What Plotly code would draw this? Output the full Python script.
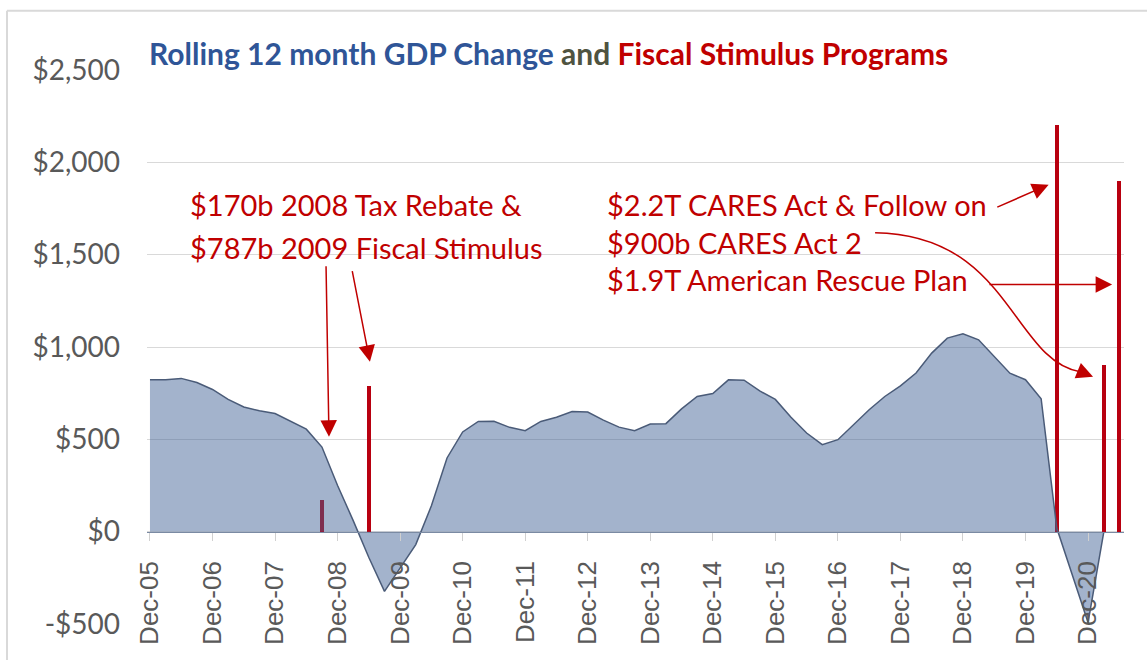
import pandas as pd
import plotly.graph_objects as go

# ---------------- data ----------------
quarters = list(pd.period_range("2005Q4", "2021Q2", freq="Q")
                .to_timestamp(how="end").strftime("%b-%y"))

gdp_change = [822, 822, 830, 808, 770, 716, 675, 655, 640, 597,
              555, 458, 250, 60, -140, -323, -200, -70, 140, 399,
              540, 597, 598, 565, 547, 597, 620, 651, 648, 604,
              566, 547, 583, 585, 665, 732, 748, 822, 820, 762,
              716, 620, 534, 471, 498, 579, 660, 732, 790, 859,
              967, 1048, 1071, 1039, 949, 858, 823, 720, 20, -240,
              -492, -5]

stim_quarters = ["Sep-08", "Jun-09", "Jun-20", "Mar-21", "Jun-21"]
stim_values = [170, 787, 2200, 900, 1900]

y_tick_vals = [-500, 0, 500, 1000, 1500, 2000, 2500]
y_tick_text = ["-$500", "$0", "$500", "$1,000", "$1,500", "$2,000", "$2,500"]

x_idx = list(range(len(quarters)))
gdp_x = x_idx[:len(gdp_change)]
stim_x = [quarters.index(q) for q in stim_quarters]
dec_vals = [i for i, q in enumerate(quarters) if q.startswith("Dec")]
dec_text = [quarters[i] for i in dec_vals]

RED = "#c00000"
GRAY = "#595959"

fig = go.Figure()
fig.add_trace(go.Scatter(
    x=gdp_x, y=gdp_change, mode="lines", fill="tozeroy",
    line=dict(color="#4a5b78", width=1.5),
    fillcolor="rgba(62,96,148,0.48)", hoverinfo="skip", showlegend=False))
fig.add_trace(go.Bar(
    x=stim_x, y=stim_values, width=0.25, marker=dict(color="#b80010", line=dict(width=0)),
    showlegend=False))

fig.update_layout(
    width=1147, height=660,
    margin=dict(l=147, r=23, t=70, b=36),
    paper_bgcolor="white", plot_bgcolor="white",
    font=dict(family="Lato", color=GRAY),
    bargap=0,
    xaxis=dict(range=[-0.19, 62.3], showgrid=False, zeroline=False,
               anchor="free", position=500 / 3000,
               tickmode="array", tickvals=dec_vals, ticktext=dec_text,
               tickangle=-90, ticks="outside", ticklen=8, tickcolor="#d0d0d0",
               showline=True, linecolor="#7a8aa3", linewidth=1,
               tickfont=dict(family="Liberation Sans", size=26, color=GRAY),
               ticklabelstandoff=10),
    yaxis=dict(range=[-500, 2500], tickmode="array", tickvals=y_tick_vals,
               ticktext=y_tick_text, showgrid=True, gridcolor="#d9d9d9",
               gridwidth=1, zeroline=False, ticks="",
               tickfont=dict(family="Lato", size=28, color=GRAY),
               ticklabelstandoff=26),
)

# chart border (top and left)
fig.add_shape(type="line", xref="paper", yref="paper",
              x0=-0.1433, x1=1.1, y0=1.107, y1=1.107,
              line=dict(color="#d9d9d9", width=2))
fig.add_shape(type="line", xref="paper", yref="paper",
              x0=-0.1433, x1=-0.1433, y0=1.107, y1=-0.2,
              line=dict(color="#d9d9d9", width=2))

# title
fig.add_annotation(
    xref="paper", yref="paper", x=0.0, y=1.03, xanchor="left", yanchor="middle",
    showarrow=False,
    text=("<b><span style='color:#2f5597'>Rolling 12 month GDP Change</span> "
          "<span style='color:#4f5340'>and</span> "
          "<span style='color:#c00000'>Fiscal Stimulus Programs</span></b>"),
    font=dict(family="Lato", size=30))

# annotation texts
txt_font = dict(family="Lato", size=29, color=RED)
for tx, ty, t in [(2.43, 1771, "$170b 2008 Tax Rebate &"),
                  (2.43, 1538, "$787b 2009 Fiscal Stimulus"),
                  (29.1, 1771, "$2.2T CARES Act & Follow on"),
                  (29.1, 1565, "$900b CARES Act 2"),
                  (29.1, 1365, "$1.9T American Rescue Plan")]:
    fig.add_annotation(x=tx, y=ty, text=t, showarrow=False, xanchor="left",
                       yanchor="middle", font=txt_font)

# arrows
arrow_kw = dict(showarrow=True, arrowhead=2, arrowsize=2.2, arrowwidth=1.5,
                arrowcolor=RED, axref="x", ayref="y", text="", standoff=0)
for hx, hy, tx, ty in [(11.45, 514, 11.26, 1446),
                       (14.07, 920, 12.92, 1419),
                       (57.48, 1879, 54.1, 1754),
                       (61.54, 1338, 53.6, 1338),
                       (60.32, 839, 59.36, 872)]:
    fig.add_annotation(x=hx, y=hy, ax=tx, ay=ty, **arrow_kw)

# curved arrow body for CARES Act 2
fig.add_shape(type="path", xref="x", yref="y",
              path="M 46.38,1619 C 55.01,1608 55.14,931 59.49,866",
              line=dict(color=RED, width=1.5))

fig.write_html("out.html")
